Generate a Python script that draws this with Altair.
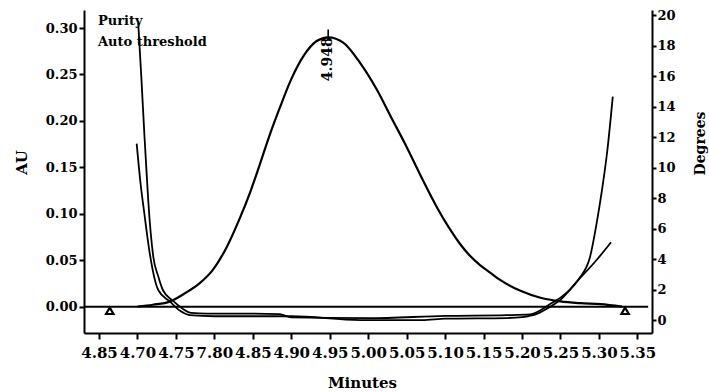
import altair as alt
import pandas as pd

# ---------------- data ----------------
x_tick_values = [4.65, 4.70, 4.75, 4.80, 4.85, 4.90, 4.95, 5.00, 5.05, 5.10, 5.15, 5.20, 5.25, 5.30, 5.35]
x_tick_text = ["4.85", "4.70", "4.75", "7.80", "4.85", "4.90", "4.95", "5.00",
               "5.05", "5.10", "5.15", "5.20", "5.25", "5.30", "5.35"]
au_ticks = [0.00, 0.05, 0.10, 0.15, 0.20, 0.25, 0.30]
deg_ticks = [0, 2, 4, 6, 8, 10, 12, 14, 16, 18, 20]

# chromatogram peak (AU)
peak_min = [4.700, 4.720, 4.742, 4.762, 4.781, 4.797, 4.816, 4.833, 4.846, 4.859,
            4.872, 4.885, 4.900, 4.916, 4.933, 4.948, 4.968, 4.989, 5.011, 5.031,
            5.050, 5.070, 5.090, 5.105, 5.119, 5.132, 5.145, 5.158, 5.171, 5.198,
            5.224, 5.250, 5.276, 5.302, 5.330]
peak_au = [0.000, 0.002, 0.0054, 0.0145, 0.0253, 0.0385, 0.064, 0.095, 0.122, 0.153,
           0.185, 0.214, 0.245, 0.270, 0.286, 0.290, 0.284, 0.263, 0.234, 0.202,
           0.172, 0.138, 0.106, 0.085, 0.068, 0.055, 0.045, 0.037, 0.029, 0.017,
           0.0095, 0.0056, 0.0037, 0.0026, 0.000]

# purity angle curve (degrees)
purity_min = [4.701, 4.705, 4.709, 4.712, 4.714, 4.7206, 4.727, 4.733, 4.746, 4.758,
              4.770, 4.790, 4.850, 4.885, 4.900, 5.000, 5.100, 5.180, 5.210, 5.225,
              5.2365, 5.250, 5.262, 5.275, 5.2885, 5.297, 5.304, 5.311, 5.318]
purity_deg = [19.5, 16.0, 12.2, 9.6, 7.9, 4.18, 2.9, 2.0, 1.3, 0.8,
              0.5, 0.45, 0.45, 0.42, 0.2, 0.15, 0.3, 0.35, 0.4, 0.7,
              1.08, 1.5, 2.0, 2.8, 4.18, 6.37, 8.56, 11.18, 14.68]

# auto threshold curve (degrees)
thresh_min = [4.699, 4.704, 4.709, 4.716, 4.727, 4.742, 4.755, 4.768, 4.800, 4.900,
              4.990, 5.070, 5.100, 5.180, 5.200, 5.220, 5.235, 5.2495, 5.2712, 5.295,
              5.3158]
thresh_deg = [11.6, 9.0, 7.0, 4.4, 2.0, 1.25, 0.65, 0.35, 0.28, 0.28,
              0.03, 0.03, 0.12, 0.16, 0.22, 0.45, 0.85, 1.34, 2.55, 3.85,
              5.13]

baseline_min = [4.6305, 5.364]
marker_min = [4.664, 5.334]
marker_au = [-0.0045, -0.0045]
apex_min = [4.948]
apex_au = [0.290]
apex_label = ["4.948"]
legend_labels = ["Purity", "Auto threshold"]

# ---------------- chart ----------------
FONT = "DejaVu Serif"
WEIGHT = "bold"
X_DOMAIN = [4.6305, 5.369]
AU_DOMAIN = [-0.0284, 0.3194]
DEG_DOMAIN = [-0.82, 20.36]

label_expr = "[" + ",".join("'%s'" % s for s in x_tick_text) + "][round((datum.value - 4.65) / 0.05)]"

x_axis = alt.Axis(values=x_tick_values, labelExpr=label_expr, labelOverlap=False, labelFlush=False,
                  grid=False, title="Minutes", titleFont=FONT, titleFontSize=15, titleFontWeight=WEIGHT,
                  titleColor="black", titleX=278, titleY=54, titleBaseline="alphabetic",
                  labelFont=FONT, labelFontSize=15, labelFontWeight=WEIGHT, labelColor="black", labelPadding=6,
                  tickColor="black", tickWidth=2, tickSize=6, domainColor="black", domainWidth=2)
x_enc = lambda f: alt.X(f, type="quantitative", scale=alt.Scale(domain=X_DOMAIN, nice=False, zero=False), axis=x_axis)

au_axis = alt.Axis(values=au_ticks, format=".2f", grid=False, title="AU", titleFont=FONT, titleFontSize=15,
                   titleFontWeight=WEIGHT, titleColor="black", titleAngle=270, titleX=-63, titleY=152,
                   titleAlign="center", titleBaseline="middle",
                   labelFont=FONT, labelFontSize=13, labelFontWeight=WEIGHT, labelColor="black", labelPadding=2,
                   tickColor="black", tickWidth=2, tickSize=5, domainColor="black", domainWidth=2)
au_scale = alt.Scale(domain=AU_DOMAIN, nice=False, zero=False)

deg_axis = alt.Axis(orient="right", values=deg_ticks, format="d", grid=False, title="Degrees", titleFont=FONT,
                    titleFontSize=14, titleFontWeight=WEIGHT, titleColor="black", titleAngle=270,
                    titleX=48, titleY=133, titleAlign="center", titleBaseline="middle",
                    labelFont=FONT, labelFontSize=13, labelFontWeight=WEIGHT, labelColor="black", labelPadding=1,
                    tickColor="black", tickWidth=2, tickSize=4, domainColor="black", domainWidth=2)
deg_scale = alt.Scale(domain=DEG_DOMAIN, nice=False, zero=False)

peak_df = pd.DataFrame({"m": peak_min, "au": peak_au})
base_df = pd.DataFrame({"m": [baseline_min[0]], "m2": [baseline_min[1]], "au": [0.0]})
mark_df = pd.DataFrame({"m": marker_min, "au": marker_au})
apex_df = pd.DataFrame({"m": apex_min, "au": apex_au, "top": [0.2985], "bot": [0.287], "t": apex_label})
pur_df = pd.DataFrame({"m": purity_min, "deg": purity_deg})
thr_df = pd.DataFrame({"m": thresh_min, "deg": thresh_deg})

peak = alt.Chart(peak_df).mark_line(color="black", strokeWidth=2.2, interpolate="monotone").encode(
    x=x_enc("m"), y=alt.Y("au:Q", scale=au_scale, axis=au_axis))
base = alt.Chart(base_df).mark_rule(color="black", strokeWidth=2).encode(
    x=x_enc("m"), x2="m2", y=alt.Y("au:Q", scale=au_scale, axis=au_axis))
tri = alt.Chart(mark_df).mark_point(shape="triangle-up", filled=False, color="black", opacity=1,
                                    size=55, strokeWidth=2.2).encode(
    x=x_enc("m"), y=alt.Y("au:Q", scale=au_scale, axis=au_axis))
apex_tick = alt.Chart(apex_df).mark_rule(color="black", strokeWidth=1.6).encode(
    x=x_enc("m"), y=alt.Y("top:Q", scale=au_scale, axis=au_axis), y2="bot")
apex_text = alt.Chart(apex_df).mark_text(font=FONT, fontSize=14, fontWeight=WEIGHT, color="black", angle=270,
                                         align="right", baseline="middle").encode(
    x=x_enc("m"), y=alt.Y("au:Q", scale=au_scale, axis=au_axis), text="t:N")
leg1 = alt.Chart(pd.DataFrame({"t": [legend_labels[0]]})).mark_text(
    font=FONT, fontSize=13, fontWeight=WEIGHT, color="black", align="left", baseline="alphabetic").encode(
    x=alt.value(14), y=alt.value(15), text="t:N")
leg2 = alt.Chart(pd.DataFrame({"t": [legend_labels[1]]})).mark_text(
    font=FONT, fontSize=13, fontWeight=WEIGHT, color="black", align="left", baseline="alphabetic").encode(
    x=alt.value(14), y=alt.value(36), text="t:N")

left = alt.layer(peak, base, tri, apex_tick, apex_text, leg1, leg2)

pur = alt.Chart(pur_df).mark_line(color="black", strokeWidth=1.8, interpolate="monotone").encode(
    x=x_enc("m"), y=alt.Y("deg:Q", scale=deg_scale, axis=deg_axis))
thr = alt.Chart(thr_df).mark_line(color="black", strokeWidth=1.8, interpolate="monotone").encode(
    x=x_enc("m"), y=alt.Y("deg:Q", scale=deg_scale, axis=deg_axis))
right = alt.layer(pur, thr)

chart = alt.layer(left, right).resolve_scale(y="independent").properties(
    width=568, height=323,
    padding={"left": 84, "top": 10, "right": 57, "bottom": 59},
    autosize=alt.AutoSizeParams(type="none"),
    background="white",
).configure_view(stroke=None)

chart.save("out.html", embed_options={"renderer": "svg", "actions": False})
